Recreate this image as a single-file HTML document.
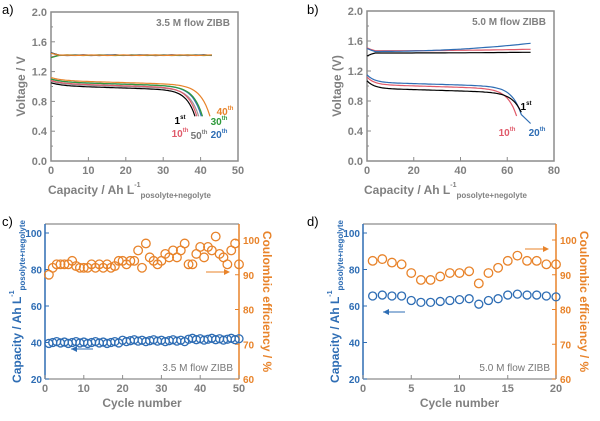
<!DOCTYPE html>
<html><head><meta charset="utf-8"><style>
html,body{margin:0;padding:0;background:#fff;}
svg{display:block;font-family:"Liberation Sans",sans-serif;}
</style></head><body>
<svg id="s" width="600" height="421" xmlns="http://www.w3.org/2000/svg"></svg>
<script>
const s=document.getElementById('s');let h='';
const G='#8c8c8c',B='#2e6db4',O='#e8832a';
function txt(x,y,t,o){o=o||{};h+=`<text x="${x}" y="${y}" font-size="${o.fs||11}" fill="${o.c||'#808080'}" font-weight="${o.fw||'bold'}" text-anchor="${o.a||'middle'}" ${o.tr?`transform="${o.tr}"`:''}>${t}</text>`;}
function line(x1,y1,x2,y2,c,w){h+=`<line x1="${x1}" y1="${y1}" x2="${x2}" y2="${y2}" stroke="${c}" stroke-width="${w||1}"/>`;}
function poly(pts,c,w){h+=`<polyline fill="none" stroke="${c}" stroke-width="${w||1.2}" points="${pts.map(p=>p.map(v=>v.toFixed(1)).join(',')).join(' ')}"/>`;}
function volt(x0,x1,y0,y1,xmax,xstep,nm,lab){
 h+=`<rect x="${x0}" y="${y0}" width="${x1-x0}" height="${y1-y0}" fill="none" stroke="${G}" stroke-width="1.5"/>`;
 for(let v=0;v<=2.0001;v+=0.4){let y=y1-v/2*(y1-y0);line(x0,y,x0+4,y,G);txt(x0-4,y+4,v.toFixed(1),{a:'end'});}
 for(let v=0.2;v<2;v+=0.4){let y=y1-v/2*(y1-y0);line(x0,y,x0+2,y,G);}
 for(let c=0;c<=xmax;c+=xstep){let x=x0+c/xmax*(x1-x0);line(x,y1,x,y1-4,G);txt(x,y1+13,c);}
 txt(x1-8,y0+14,nm,{a:'end',fs:10});
 txt((x0+x1)/2-15,y1+33,'Capacity / Ah L<tspan font-size="7" dy="-7">-1</tspan><tspan font-size="8" dy="11">posolyte+negolyte</tspan>',{fs:12});
 txt(0,0,lab,{fs:12,tr:`translate(${x0-26},${(y0+y1)/2}) rotate(-90)`});
}
volt(51,238,12,161,50,10,'3.5 M flow ZIBB','Voltage / V');
volt(367,554,11,161,80,20,'5.0 M flow ZIBB','Voltage (V)');
txt(2,14,'a)',{a:'start',fw:'normal',fs:13,c:'#000'});
txt(307,14,'b)',{a:'start',fw:'normal',fs:13,c:'#000'});
txt(2,226,'c)',{a:'start',fw:'normal',fs:13,c:'#000'});
txt(307,226,'d)',{a:'start',fw:'normal',fs:13,c:'#000'});
function dis(X,Y,e,st,drop,end,c,tail){
 let p=[];for(let i=0;i<=80;i++){let x=i/80*e;let v=st-drop*(1-Math.exp(-x/3))-0.06*x/e-(st-drop-0.06-end)*Math.exp((x-e)/(e*0.06));p.push([X(x),Y(v)]);}
 if(tail)p.push(tail);poly(p,c);
}
const Xa=c=>51+c*3.74,Ya=v=>161-v*74.5;
[['#999',39.5,1.07],['#000',38.5,1.05],['#e05a6a',39,1.08],['#2e6db4',40.2,1.1],['#2e9a3a',40.5,1.1],['#e8832a',42.5,1.12]].forEach(([c,e,st],j)=>{
 dis(Xa,Ya,e,st,0.04,0.6,c);
 let q=[];for(let i=0;i<=20;i++){let x=i/20*43;q.push([Xa(x),Ya(1.42+0.03*Math.exp(-x*2)*(j%2?1:-1)+0.004*Math.sin(i*1.7+j))]);}poly(q,c);
});
const L=(x,y,t,c)=>txt(x,y,t+'<tspan font-size="6" dy="-5">th</tspan>',{c:c,fs:10});
txt(180,124,'1<tspan font-size="6" dy="-5">st</tspan>',{c:'#000',fs:10});
L(180,137,'10','#e05a6a');L(199,139,'50','#777');L(219,138,'20','#2e6db4');L(219,125,'30','#2e9a3a');L(225,115,'40','#e8832a');
const Xb=c=>367+c*2.3375,Yb=v=>161-v*75;
dis(Xb,Yb,64,1.12,0.1,0.6,'#e05a6a');
dis(Xb,Yb,66,1.15,0.1,0.62,'#2e6db4',[Xb(70),Yb(0.5)]);
dis(Xb,Yb,66,1.07,0.1,0.65,'#000');
[['#000',1.44,1.45,-1],['#e05a6a',1.47,1.49,1],['#2e6db4',1.46,1.57,1]].forEach(([c,cs,ce,d])=>{
 let q=[];for(let i=0;i<=40;i++){let x=i/40*70;let v=cs+(ce-cs)*Math.pow(x/70,2.2);if(x<3)v+=0.04*(1-x/3)*d;q.push([Xb(x),Yb(v)]);}poly(q,c);
});
txt(526,110,'1<tspan font-size="6" dy="-5">st</tspan>',{c:'#000',fs:10});L(507,136,'10','#e05a6a');L(537,136,'20','#2e6db4');
function cyc(x0,x1,y0,y1,xmax,xstep,cap,ce,nm,arr){
 const X=c=>x0+c/xmax*(x1-x0);const YL=v=>y1-(v-20)*(y1-233)/80;const YR=v=>y1-(v-60)*(y1-240)/40;
 line(x0,y0,x1,y0,G,1.2);line(x0,y1,x1,y1,G,1.2);line(x0,y0,x0,y1,B,1.5);line(x1,y0,x1,y1,O,1.5);
 for(let v=20;v<=100;v+=20){line(x0,YL(v),x0+4,YL(v),B);txt(x0-3,YL(v)+4,v,{a:'end',c:B,fs:10});}
 for(let v=60;v<=100;v+=10){line(x1,YR(v),x1-4,YR(v),O);txt(x1+4,YR(v)+4,v,{a:'start',c:O,fs:10});}
 for(let c=0;c<=xmax;c+=xstep){line(X(c),y1,X(c),y1-4,G);txt(X(c),y1+13,c);}
 txt((x0+x1)/2,y1+28,'Cycle number',{fs:12});
 txt(x1-6,y1-8,nm,{a:'end',fs:10,fw:'normal',c:'#777'});
 txt(0,0,'Capacity / Ah L<tspan font-size="7" dy="-7">-1</tspan><tspan font-size="8" dy="11">posolyte+negolyte</tspan>',{c:B,fs:12,tr:`translate(${x0-24},${(y0+y1)/2}) rotate(-90)`});
 txt(0,0,'Coulombic efficiency / %',{c:O,fs:12,tr:`translate(${x1+24},${(y0+y1)/2}) rotate(90)`});
 cap.forEach((v,i)=>h+=`<circle cx="${X(i+1)}" cy="${YL(v)}" r="4" fill="none" stroke="${B}" stroke-width="1.3"/>`);
 ce.forEach((v,i)=>h+=`<circle cx="${X(i+1)}" cy="${YR(v)}" r="4.3" fill="none" stroke="${O}" stroke-width="1.3"/>`);
 let [lx,ly,rx,ry]=arr;
 line(lx,ly,lx+22,ly,B);h+=`<polygon points="${lx},${ly} ${lx+6},${ly-3} ${lx+6},${ly+3}" fill="${B}"/>`;
 line(rx,ry,rx+22,ry,O);h+=`<polygon points="${rx+24},${ry} ${rx+18},${ry-3} ${rx+18},${ry+3}" fill="${O}"/>`;
}
const ceC=[90,92,93,93,93,93,94,92.5,92,92,92,93,92,93,92,93,92,92.5,94,94,93,94,94,97,92,99,95,94,93,94,96,95,97,95,97,99,93,93,96,98,95,98,97,101,96,95,93,97,99,93];
const capC=ceC.map((v,i)=>39.5+(i>18?1:0)+(i>35?0.8:0)+((i*7)%5)*0.25);
cyc(45,239,224,379,50,10,capC,ceC,'3.5 M flow ZIBB',[71,349,206,272]);
cyc(363,556,224,379,20,5,[65.5,66,65.5,65.5,63,62,62,62.5,63,63.5,64,61,63,64,66,66.5,66,66,65.5,65],[94,94.5,93.5,93,90.5,88.5,88.5,89.5,90.5,90.5,91,87.5,90.5,92,94,95.5,94,94,93,93],'5.0 M flow ZIBB',[383,312,525,249]);
s.innerHTML=h;
</script>
</body></html>
